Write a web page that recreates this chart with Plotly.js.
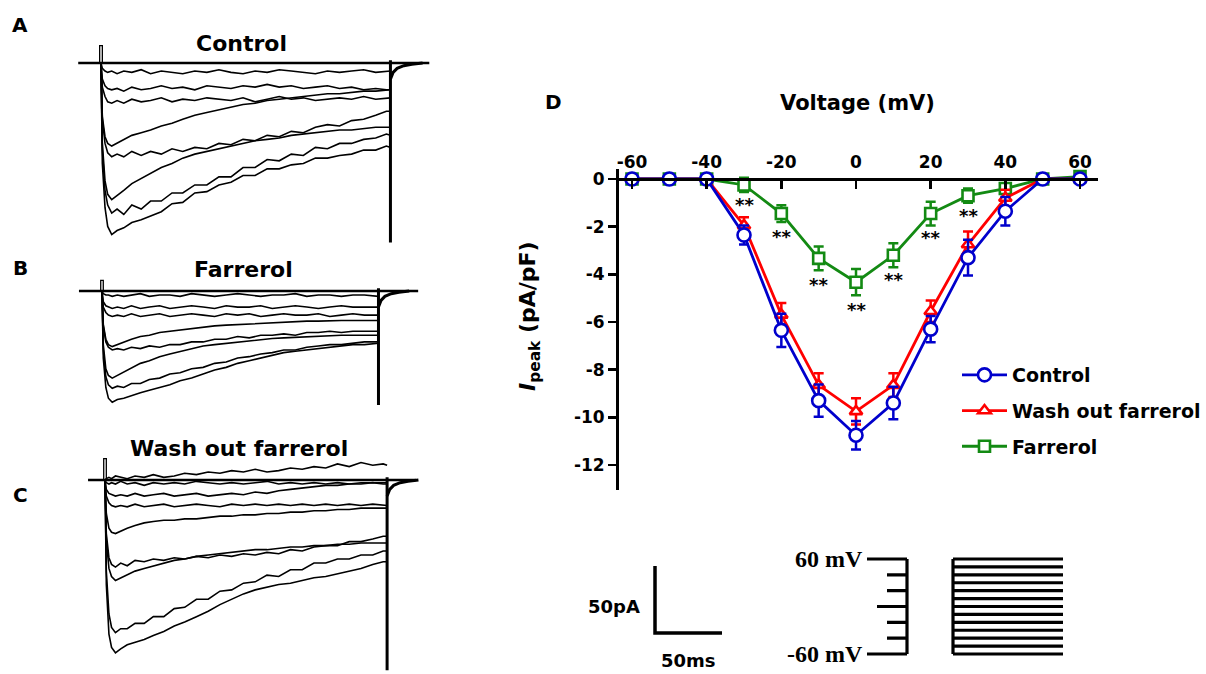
<!DOCTYPE html>
<html>
<head>
<meta charset="utf-8">
<script src="https://cdn.plot.ly/plotly-3.0.1.min.js"></script>
<style>html,body{margin:0;padding:0;background:#fff;}#chart{width:1206px;height:674px;}</style>
</head>
<body>
<div id="chart"></div>
<script>
// ---------- I-V data (panel D) ----------
const voltages = [-60,-50,-40,-30,-20,-10,0,10,20,30,40,50,60];
const ctrlMean = [0,0,0,-2.35,-6.35,-9.3,-10.75,-9.4,-6.3,-3.3,-1.35,0,0];
const ctrlSem  = [0,0,0,0.4,0.7,0.68,0.6,0.68,0.55,0.75,0.6,0,0];
const washMean = [0,0,0,-1.95,-5.7,-8.65,-9.75,-8.65,-5.55,-2.75,-0.8,0,0];
const washSem  = [0,0,0,0.35,0.5,0.5,0.55,0.5,0.45,0.55,0.35,0,0];
const farMean  = [0,0,0,-0.25,-1.45,-3.33,-4.33,-3.2,-1.45,-0.7,-0.4,0,0.1];
const farSem   = [0,0,0,0.3,0.35,0.5,0.55,0.5,0.5,0.3,0.15,0,0];
const starV = [-30,-20,-10,0,10,20,30];
const starY = [-1.02,-2.35,-4.38,-5.43,-4.17,-2.42,-1.51];
const xTicks = [-60,-40,-20,0,20,40,60];
const yTicks = [0,-2,-4,-6,-8,-10,-12];

// ---------- current sweeps (panels A-C), time in ms, current in pA ----------
const sweepTime = [0,1,3,5,8,12,17,23,30,37,45,53,61,70,79,88,97,106,115,124,133,142,151,160,169,178,187,196,205,213,216];
const controlSweeps = [
 [0,-4,-6,-7,-6,-8,-6,-7,-5,-8,-6,-7,-8,-6,-7,-5,-7,-8,-6,-7,-5,-6,-7,-8,-6,-7,-6,-5,-7,-6,-6],
 [0,-12,-17,-19,-20,-19,-21,-18,-20,-19,-17,-19,-18,-20,-17,-18,-19,-17,-18,-16,-18,-17,-19,-18,-17,-19,-18,-20,-19,-20,-20],
 [0,-18,-25,-29,-30,-28,-30,-27,-29,-28,-26,-29,-27,-28,-26,-27,-28,-26,-29,-27,-25,-27,-26,-28,-27,-26,-27,-25,-27,-26,-26],
 [0,-40,-55,-60,-62,-60,-57,-54,-52,-50,-47,-45,-42,-39,-37,-35,-33,-31,-30,-28,-27,-26,-25,-24,-23,-23,-22,-21,-21,-20,-20],
 [0,-42,-60,-67,-70,-68,-70,-66,-69,-66,-68,-64,-66,-63,-64,-60,-61,-57,-58,-54,-55,-51,-52,-48,-46,-47,-43,-42,-39,-36,-36],
 [0,-60,-88,-98,-102,-99,-95,-90,-86,-82,-78,-75,-71,-68,-66,-64,-62,-60,-58,-57,-56,-54,-53,-52,-51,-50,-50,-49,-48,-48,-48],
 [0,-65,-95,-106,-112,-109,-113,-106,-109,-103,-103,-97,-97,-91,-91,-85,-85,-78,-78,-72,-73,-68,-69,-63,-64,-60,-60,-57,-56,-53,-54],
 [0,-75,-108,-122,-128,-125,-123,-119,-117,-114,-111,-105,-104,-97,-96,-91,-89,-84,-84,-79,-79,-76,-75,-71,-71,-69,-68,-65,-65,-62,-63]
];
const farrerolSweeps = [
 [0,-2,-3,-3,-4,-3,-4,-3,-2,-4,-3,-3,-4,-2,-3,-4,-3,-2,-3,-4,-3,-3,-2,-4,-3,-3,-4,-3,-3,-4,-4],
 [0,-8,-11,-12,-13,-12,-13,-11,-13,-12,-11,-13,-12,-11,-12,-13,-11,-12,-12,-11,-13,-12,-11,-12,-13,-12,-11,-12,-12,-12,-12],
 [0,-12,-16,-18,-19,-18,-19,-17,-19,-18,-17,-19,-18,-17,-18,-19,-17,-18,-17,-19,-18,-17,-18,-18,-17,-19,-18,-17,-18,-18,-18],
 [0,-25,-36,-40,-41.5,-40,-38,-36,-34,-33,-31,-30,-29,-28,-27,-26,-25.5,-25,-24.5,-24,-23.5,-23,-23,-22.5,-22.5,-22,-22,-22,-22,-22,-22],
 [0,-26,-38,-42,-44,-43,-44,-42,-43,-41,-42,-40,-40,-38,-38,-36,-36,-34,-35,-33,-33,-32,-33,-31,-31,-30,-31,-30,-30,-30,-30],
 [0,-40,-58,-63,-65,-63,-60,-57,-54,-52,-49,-47,-45,-43,-41,-40,-39,-38,-37,-36,-35.5,-35,-34.5,-34,-34,-33.5,-33,-33,-33,-33,-33],
 [0,-44,-64,-70,-72.6,-71,-72,-69,-69,-66,-65,-62,-61,-58,-57,-54,-53,-50,-49,-47,-46,-44,-44,-42,-41,-40,-40,-39,-38,-38,-38],
 [0,-50,-72,-80,-83,-81,-80,-78,-76,-74,-72,-70,-67,-65,-62,-59,-57,-54,-52,-50,-48,-46,-45,-44,-43,-42,-41,-40,-40,-39,-39]
];
const washSweeps = [
 [0,1,2,1,3,2,1,3,2,4,2,3,5,4,6,5,7,6,8,6,7,9,8,10,9,12,10,13,11,12,11],
 [0,-2,-3,-2,-3,-1,-3,-2,-4,-2,-3,-2,-3,-1,-2,-3,-2,-3,-2,-1,-3,-2,-3,-2,-3,-2,-3,-2,-2,-2,-2],
 [0,-7,-10,-11,-12,-11,-12,-10,-12,-11,-10,-12,-11,-10,-12,-11,-10,-11,-9,-10,-8,-7,-6,-5,-4,-4,-3,-3,-2,-3,-3],
 [0,-12,-17,-19,-20,-19,-20,-18,-20,-19,-18,-20,-19,-18,-19,-20,-18,-19,-18,-19,-18,-19,-18,-19,-18,-19,-18,-19,-18,-19,-19],
 [0,-25,-36,-39,-40,-38,-36,-34,-32,-31,-30,-30,-29,-29,-28,-27,-27,-26,-26,-25,-25,-24,-24,-23,-23,-22,-22,-21,-21,-21,-21],
 [0,-40,-58,-63,-65,-62,-64,-60,-61,-59,-60,-58,-59,-57,-58,-56,-57,-55,-56,-54,-55,-52,-53,-50,-49,-49,-46,-46,-44,-42,-42],
 [0,-45,-66,-72,-75,-73,-71,-68,-66,-64,-62,-60,-59,-57,-56,-55,-54,-53,-52,-52,-51,-50,-50,-49,-49,-48,-48,-47,-47,-47,-47],
 [0,-68,-100,-110,-114,-111,-111,-107,-107,-102,-102,-96,-95,-89,-89,-83,-82,-77,-76,-71,-72,-67,-67,-62,-62,-59,-59,-56,-56,-53,-53],
 [0,-78,-115,-125,-129,-126,-123,-121,-119,-116,-113,-109,-106,-102,-98,-93,-89,-85,-82,-80,-78,-77,-75,-73,-72,-70,-68,-66,-63,-61,-61]
];
const holdSpan = [[-17,245],[-18,247],[-13,238]];   // ms, holding baseline per panel
const capSpike = [13, 8, 16];                        // pA, capacitive transient at step onset
const tailPeak = [-134, -85, -142];                  // pA, tail current at step offset
const pulseEnd = 216;                                // ms
const tailTime = [216,218,221,226,232,240];
const tailCurr = [-12,-7,-4,-2,-1,0];

// ---------- protocol & scale bar ----------
const stepLevels = [-60,-50,-40,-30,-20,-10,0,10,20,30,40,50,60];
const combLevels = [-60,-40,-20,0,20,40,60];
const scaleCurrent = 50; // pA
const scaleTime = 50;    // ms

// ---------- layout helpers ----------
const W = 1206, H = 674;
const F = "DejaVu Sans, Arial, sans-serif";
const xd = (a,b) => [a/W, b/W];
const yd = (top,bottom) => [1 - bottom/H, 1 - top/H];
const BLUE = '#0000cc', RED = '#ff0000', GREEN = '#138a13';

const data = [];

// sweeps panels
const panels = [
  {sweeps: controlSweeps, ax: '2'},
  {sweeps: farrerolSweeps, ax: '3'},
  {sweeps: washSweeps, ax: '4'}
];
panels.forEach((p, i) => {
  const xa = 'x' + p.ax, ya = 'y' + p.ax;
  const common = {type:'scatter', mode:'lines', xaxis: xa, yaxis: ya, showlegend:false, hoverinfo:'skip'};
  data.push(Object.assign({}, common, {x: holdSpan[i], y: [0,0], line:{color:'#000', width:2.4}}));
  p.sweeps.forEach(s => data.push(Object.assign({}, common, {x: sweepTime, y: s, line:{color:'#000', width:1.6}})));
  data.push(Object.assign({}, common, {x:[-1,-1,1,1], y:[0,capSpike[i],capSpike[i],0], line:{color:'#000', width:1.3}}));
  data.push(Object.assign({}, common, {x:[pulseEnd,pulseEnd], y:[2,tailPeak[i]], line:{color:'#000', width:3}}));
  data.push(Object.assign({}, common, {x: tailTime, y: tailCurr, line:{color:'#000', width:3}}));
});

// protocol comb & steps (x in local units)
const pc = {type:'scatter', mode:'lines', xaxis:'x5', yaxis:'y5', showlegend:false, hoverinfo:'skip', line:{color:'#000', width:3.2}};
combLevels.forEach(v => {
  const x0 = (v === 60 || v === -60) ? 87 : (v === 0 ? 97 : 107);
  data.push(Object.assign({}, pc, {x:[x0,127], y:[v,v]}));
});
data.push(Object.assign({}, pc, {x:[127,127], y:[combLevels[0], combLevels[combLevels.length-1]]}));
data.push(Object.assign({}, pc, {x:[173,173], y:[stepLevels[0], stepLevels[stepLevels.length-1]]}));
stepLevels.forEach(v => data.push(Object.assign({}, pc, {x:[173,283], y:[v,v]})));

// scale bar
data.push({type:'scatter', mode:'lines', xaxis:'x6', yaxis:'y6', showlegend:false, hoverinfo:'skip',
  x:[0,0,scaleTime], y:[scaleCurrent,0,0], line:{color:'#000', width:3.5}});

// I-V series (drawn green, red, blue so blue is on top)
function series(name, y, err, color, symbol, size, rank) {
  return {type:'scatter', mode:'lines+markers', name: name, x: voltages, y: y, legendgroup: name, legendrank: rank,
    line:{color: color, width: 2.8},
    marker:{symbol: symbol, size: size, color:'#fff', line:{color: color, width: 2.6}},
    error_y:{type:'data', array: err, visible:true, color: color, thickness: 2.5, width: 5},
    cliponaxis:false, xaxis:'x', yaxis:'y'};
}
data.push(series('Farrerol', farMean, farSem, GREEN, 'square', 11, 3));
data.push(series('Wash out farrerol', washMean, washSem, RED, 'triangle-up', 11, 2));
data.push(series('Control', ctrlMean, ctrlSem, BLUE, 'circle', 13, 1));

// annotations
const ann = [];
const txt = (text, px, py, size, extra) => Object.assign({text: text, xref:'paper', yref:'paper', x: px/W, y: 1 - py/H,
  xanchor:'center', yanchor:'middle', showarrow:false, font:{family:F, size:size, color:'#000', weight:'bold'}}, extra || {});
ann.push(txt('A', 20, 25, 20));
ann.push(txt('B', 20, 268, 20));
ann.push(txt('C', 20, 495, 20));
ann.push(txt('D', 553, 102, 20));
ann.push(txt('Control', 241, 43, 22));
ann.push(txt('Farrerol', 243, 270, 22));
ann.push(txt('Wash out farrerol', 239, 448, 22));
ann.push(txt('50pA', 642, 606, 18, {xanchor:'right'}));
ann.push(txt('50ms', 688, 660, 18));
ann.push(txt('<i>I</i><sub>peak</sub> (pA/pF)', 529, 316, 22, {textangle:-90}));
starV.forEach((v, i) => ann.push({text:'**', xref:'x', yref:'y', x: v, y: starY[i], yshift:-1, showarrow:false,
  xanchor:'center', yanchor:'middle', font:{family:F, size:18, color:'#000', weight:'bold'}}));
const serif = {family:'Liberation Serif, Times New Roman, serif', size:24, color:'#000', weight:'bold'};
ann.push({text:'60 mV', xref:'x5', yref:'y5', x: 85, y: 60, xanchor:'right', yanchor:'middle', showarrow:false, font: serif});
ann.push({text:'-60 mV', xref:'x5', yref:'y5', x: 85, y: -60, xanchor:'right', yanchor:'middle', showarrow:false, font: serif});

const hidden = {visible:false, fixedrange:true};
const tickFont = {family:F, size:17, color:'#000', weight:'bold'};

const layout = {
  width: W, height: H, margin:{l:0, r:0, t:0, b:0},
  paper_bgcolor:'#fff', plot_bgcolor:'rgba(0,0,0,0)',
  showlegend: true,
  legend:{x: 957/W, y: 1 - 356/H, xanchor:'left', yanchor:'top', bgcolor:'rgba(0,0,0,0)',
    traceorder:'grouped', tracegroupgap: 8, itemwidth: 45,
    font:{family:F, size:19, color:'#000', weight:'bold'}},
  xaxis:{domain: xd(617,1098), range:[-64.02, 64.82], anchor:'free', position: 1 - 179/H, side:'top',
    showline:true, linecolor:'#000', linewidth:2.5, ticks:'inside', ticklen:8, tickwidth:2.5, tickcolor:'#000',
    tickvals: xTicks, ticktext: xTicks.map(String), tickfont: tickFont, showgrid:false, zeroline:false,
    ticklabelstandoff: 3,
    title:{text:'Voltage (mV)', font:{family:F, size:21, color:'#000', weight:'bold'}, standoff: 35}},
  yaxis:{domain: yd(169,490), range:[-13.05, 0.42], anchor:'free', position: 617/W,
    showline:true, linecolor:'#000', linewidth:2.5, ticks:'outside', ticklen:8, tickwidth:2.5, tickcolor:'#000',
    tickvals: yTicks, ticktext: yTicks.map(String), tickfont: tickFont, showgrid:false, zeroline:false},
  xaxis2: Object.assign({domain: xd(74.2,436), range:[-20,250], anchor:'y2'}, hidden),
  yaxis2: Object.assign({domain: yd(36.2,250.6), range:[-140,20], anchor:'x2'}, hidden),
  xaxis3: Object.assign({domain: xd(76.4,422), range:[-20,250], anchor:'y3'}, hidden),
  yaxis3: Object.assign({domain: yd(270.9,425), range:[-100,15], anchor:'x3'}, hidden),
  xaxis4: Object.assign({domain: xd(78.9,431.5), range:[-20,250], anchor:'y4'}, hidden),
  yaxis4: Object.assign({domain: yd(453.2,671.6), range:[-143,20], anchor:'x4'}, hidden),
  xaxis5: Object.assign({domain: xd(780,1070), range:[0,290], anchor:'y5'}, hidden),
  yaxis5: Object.assign({domain: yd(554.25,658.75), range:[-66,66], anchor:'x5'}, hidden),
  xaxis6: Object.assign({domain: xd(640,740), range:[(640-655)/1.34, (740-655)/1.34], anchor:'y6'}, hidden),
  yaxis6: Object.assign({domain: yd(555,645), range:[(633-645)/1.34, (633-555)/1.34], anchor:'x6'}, hidden),
  annotations: ann
};

Plotly.newPlot('chart', data, layout, {staticPlot:true, displayModeBar:false});
</script>
</body>
</html>
